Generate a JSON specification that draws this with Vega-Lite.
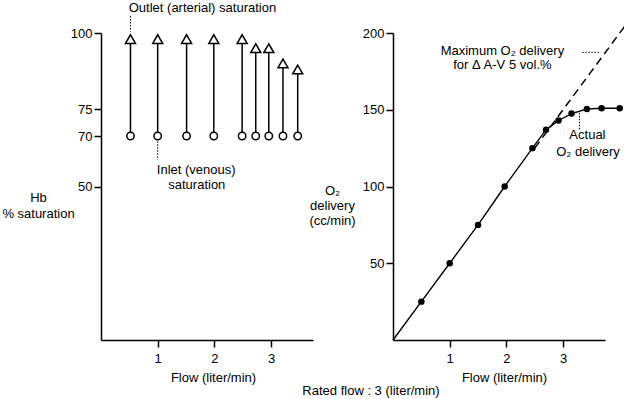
{
  "$schema": "https://vega.github.io/schema/vega-lite/v6.json",
  "autosize": {"type": "pad"},
  "padding": {"left": 1, "top": 1, "right": 0, "bottom": 0},
  "background": "white",
  "config": {
    "font": "Liberation Sans",
    "view": {"stroke": null},
    "axis": {
      "grid": false,
      "domainColor": "black",
      "domainWidth": 1.5,
      "tickColor": "black",
      "tickWidth": 1.5,
      "tickSize": 7,
      "labelFont": "Liberation Sans",
      "labelFontSize": 13,
      "labelColor": "black",
      "titleFont": "Liberation Sans",
      "titleFontSize": 13,
      "titleFontWeight": "normal",
      "titleColor": "black"
    },
    "text": {"font": "Liberation Sans", "fontSize": 13, "color": "black"}
  },
  "title": {
    "text": "Rated flow : 3 (liter/min)",
    "orient": "bottom",
    "anchor": "middle",
    "font": "Liberation Sans",
    "fontSize": 13,
    "fontWeight": "normal",
    "color": "black",
    "dx": 53,
    "offset": 0
  },
  "datasets": {
    "sat": [
      {"flow": 0.52, "inlet": 70, "outlet": 98},
      {"flow": 1.0, "inlet": 70, "outlet": 98},
      {"flow": 1.51, "inlet": 70, "outlet": 98},
      {"flow": 1.99, "inlet": 70, "outlet": 98},
      {"flow": 2.49, "inlet": 70, "outlet": 98},
      {"flow": 2.73, "inlet": 70, "outlet": 95},
      {"flow": 2.96, "inlet": 70, "outlet": 95},
      {"flow": 3.21, "inlet": 70, "outlet": 90},
      {"flow": 3.47, "inlet": 70, "outlet": 88}
    ],
    "satLabels": [
      {"flow": 1.79, "value": 108.3, "label": "Outlet (arterial) saturation"},
      {"flow": 1.68, "value": 56.5, "label": "Inlet (venous)"},
      {"flow": 1.69, "value": 50.6, "label": "saturation"}
    ],
    "satLeaders": [
      {"flow": 0.52, "from": 105.6, "to": 100.5},
      {"flow": 1.0, "from": 67.9, "to": 60.6}
    ],
    "o2": [
      {"flow": 0, "delivery": 0},
      {"flow": 0.5, "delivery": 25},
      {"flow": 1.0, "delivery": 50},
      {"flow": 1.5, "delivery": 75},
      {"flow": 1.97, "delivery": 100},
      {"flow": 2.46, "delivery": 125},
      {"flow": 2.7, "delivery": 137},
      {"flow": 2.92, "delivery": 143},
      {"flow": 3.15, "delivery": 147.5},
      {"flow": 3.42, "delivery": 150.5},
      {"flow": 3.68, "delivery": 151},
      {"flow": 4.0, "delivery": 151}
    ],
    "maxO2": [
      {"flow": 2.5, "delivery": 125},
      {"flow": 4.2, "delivery": 210}
    ],
    "o2Labels": [
      {"flow": 1.93, "value": 188.4, "label": "Maximum O₂ delivery\nfor Δ A-V 5 vol.%"},
      {"flow": 3.43, "value": 133.6, "label": "Actual"},
      {"flow": 3.44, "value": 122.7, "label": "O₂ delivery"}
    ],
    "o2Leaders": [
      {"flow": 3.34, "flow2": 3.66, "from": 187.4, "to": 187.4},
      {"flow": 3.29, "flow2": 3.29, "from": 148, "to": 136.8}
    ]
  },
  "spacing": 80,
  "bounds": "flush",
  "hconcat": [
    {
      "width": 212,
      "height": 307,
      "layer": [
        {
          "data": {"name": "sat"},
          "mark": {"type": "rule", "stroke": "black", "strokeWidth": 1.5},
          "encoding": {
            "x": {
              "field": "flow", "type": "quantitative",
              "scale": {"domain": [0, 3.74], "nice": false, "zero": false},
              "axis": {
                "values": [1, 2, 3],
                "format": "d",
                "title": "Flow (liter/min)",
                "titleX": 112,
                "titleY": 41.5,
                "titleBaseline": "alphabetic",
                "titleAlign": "center",
                "labelBaseline": "alphabetic",
                "labelPadding": 15.7
              }
            },
            "y": {
              "field": "inlet", "type": "quantitative",
              "scale": {"domain": [0, 50, 70, 75, 100], "range": [307, 153.5, 103, 76, 0], "nice": false, "zero": false},
              "axis": {
                "values": [50, 70, 75, 100],
                "format": "d",
                "title": ["Hb", "% saturation"],
                "titleAngle": 0,
                "titleAlign": "center",
                "titleBaseline": "middle",
                "titleX": -63,
                "titleY": 164,
                "titleLineHeight": 16,
                "labelPadding": 2,
                "labelBaseline": "middle"
              }
            },
            "y2": {"field": "outlet"}
          }
        },
        {
          "data": {"name": "sat"},
          "mark": {"type": "point", "shape": "triangle-up", "size": 100, "filled": true, "fill": "white", "stroke": "black", "strokeWidth": 1.5, "opacity": 1},
          "encoding": {
            "x": {"field": "flow", "type": "quantitative"},
            "y": {"field": "outlet", "type": "quantitative"}
          }
        },
        {
          "data": {"name": "sat"},
          "mark": {"type": "point", "shape": "circle", "size": 55, "filled": true, "fill": "white", "stroke": "black", "strokeWidth": 1.5, "opacity": 1},
          "encoding": {
            "x": {"field": "flow", "type": "quantitative"},
            "y": {"field": "inlet", "type": "quantitative"}
          }
        },
        {
          "data": {"name": "satLeaders"},
          "mark": {"type": "rule", "stroke": "black", "strokeWidth": 1, "strokeDash": [1.5, 1.5]},
          "encoding": {
            "x": {"field": "flow", "type": "quantitative"},
            "y": {"field": "from", "type": "quantitative"},
            "y2": {"field": "to"}
          }
        },
        {
          "data": {"name": "satLabels"},
          "mark": {"type": "text", "align": "center", "baseline": "middle", "fontSize": 13},
          "encoding": {
            "x": {"field": "flow", "type": "quantitative"},
            "y": {"field": "value", "type": "quantitative"},
            "text": {"field": "label"}
          }
        }
      ]
    },
    {
      "width": 212,
      "height": 307,
      "layer": [
        {
          "data": {"name": "maxO2"},
          "mark": {"type": "line", "stroke": "black", "strokeWidth": 1.5, "strokeDash": [8, 5]},
          "encoding": {
            "x": {
              "field": "flow", "type": "quantitative",
              "scale": {"domain": [0, 3.74], "nice": false, "zero": false},
              "axis": {
                "values": [1, 2, 3],
                "format": "d",
                "title": "Flow (liter/min)",
                "titleX": 111,
                "titleY": 41.5,
                "titleBaseline": "alphabetic",
                "titleAlign": "center",
                "labelBaseline": "alphabetic",
                "labelPadding": 15.7
              }
            },
            "y": {
              "field": "delivery", "type": "quantitative",
              "scale": {"domain": [0, 200], "nice": false, "zero": false},
              "axis": {
                "values": [50, 100, 150, 200],
                "format": "d",
                "title": ["O₂", "delivery", "(cc/min)"],
                "titleAngle": 0,
                "titleAlign": "center",
                "titleBaseline": "middle",
                "titleX": -61,
                "titleY": 157,
                "titleLineHeight": 15,
                "labelPadding": 2,
                "labelBaseline": "middle"
              }
            }
          }
        },
        {
          "data": {"name": "o2"},
          "mark": {"type": "line", "stroke": "black", "strokeWidth": 1.4},
          "encoding": {
            "x": {"field": "flow", "type": "quantitative"},
            "y": {"field": "delivery", "type": "quantitative"}
          }
        },
        {
          "data": {"name": "o2"},
          "transform": [{"filter": "datum.flow > 0"}],
          "mark": {"type": "point", "shape": "circle", "size": 42, "filled": true, "fill": "black", "stroke": null, "opacity": 1},
          "encoding": {
            "x": {"field": "flow", "type": "quantitative"},
            "y": {"field": "delivery", "type": "quantitative"}
          }
        },
        {
          "data": {"name": "o2Leaders"},
          "mark": {"type": "rule", "stroke": "black", "strokeWidth": 1, "strokeDash": [1.5, 1.5]},
          "encoding": {
            "x": {"field": "flow", "type": "quantitative"},
            "x2": {"field": "flow2"},
            "y": {"field": "from", "type": "quantitative"},
            "y2": {"field": "to"}
          }
        },
        {
          "data": {"name": "o2Labels"},
          "mark": {"type": "text", "align": "center", "baseline": "middle", "fontSize": 13, "lineBreak": "\n", "lineHeight": 14.5},
          "encoding": {
            "x": {"field": "flow", "type": "quantitative"},
            "y": {"field": "value", "type": "quantitative"},
            "text": {"field": "label"}
          }
        }
      ]
    }
  ]
}
